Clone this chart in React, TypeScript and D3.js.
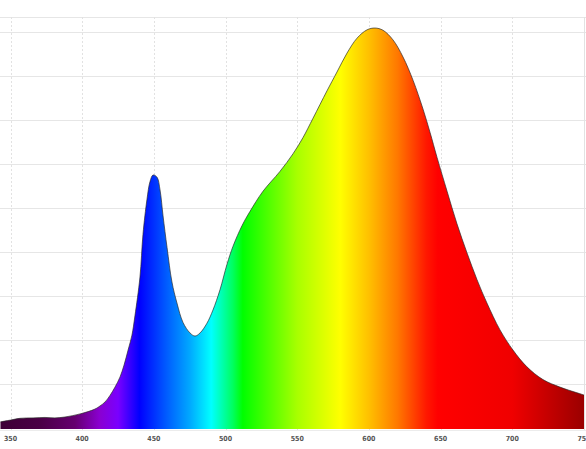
import React from "react";
import * as d3 from "d3";

// Spectrum: wavelength (nm) and relative intensity (gridline units)
const wavelengths = [343, 350, 356.6, 365.7, 374.1, 381, 388, 398.5, 408.9, 412.4, 415.9, 419.4, 422.9, 426.4, 429.2, 432, 434.7, 436.8, 440.3, 442.4, 445.2, 447.3, 449.4, 452.2, 454.3, 456.4, 459.2, 462.6, 466.1, 470.3, 475.2, 478.7, 482.2, 487, 491.2, 496.1, 501, 505.2, 511.5, 517, 526.1, 537.9, 547, 554, 561, 570.7, 577.7, 584.7, 591.7, 598.7, 604.2, 609.8, 616.8, 623.8, 630.8, 637.7, 642.6, 647.5, 654.5, 661.4, 668.4, 675.4, 682.3, 691.4, 700.5, 710.2, 721.4, 733.2, 745.1, 750];
const intensity = [0.14, 0.18, 0.22, 0.23, 0.24, 0.23, 0.25, 0.32, 0.43, 0.5, 0.59, 0.74, 0.93, 1.16, 1.43, 1.77, 2.11, 2.55, 3.43, 4.4, 5.2, 5.6, 5.75, 5.7, 5.41, 4.82, 4.1, 3.32, 2.84, 2.4, 2.16, 2.09, 2.16, 2.38, 2.68, 3.14, 3.72, 4.13, 4.6, 4.92, 5.38, 5.83, 6.23, 6.6, 7.04, 7.66, 8.09, 8.52, 8.86, 9.05, 9.09, 9.04, 8.82, 8.43, 7.9, 7.25, 6.72, 6.15, 5.38, 4.64, 3.98, 3.37, 2.84, 2.23, 1.77, 1.39, 1.1, 0.93, 0.8, 0.75];
const tickLabels = [350, 400, 450, 500, 550, 600, 650, 700, 750];
const gridValues = [1, 2, 3, 4, 5, 6, 7, 8, 9];

const colorStopNm = [343, 370, 395, 412, 425, 440, 458, 475, 490, 505, 512, 530, 550, 580, 600, 620, 640, 648, 700, 750];
const colorStopHex = ["#3d0036", "#4a0045", "#65006f", "#8a00d0", "#7a00ff", "#0000ff", "#0058ff", "#00a8ff", "#00ffff", "#00ff60", "#00ff00", "#50ff00", "#a8ff00", "#ffff00", "#ffc000", "#ff7800", "#ff1800", "#ff0000", "#f00000", "#9a0000"];

export default function App() {
  const width = 586;
  const height = 449;
  const x = d3.scaleLinear().domain([350, 750]).range([10.5, 584]);
  const y = d3.scaleLinear().domain([0, 9]).range([428, 32]);
  const data = wavelengths.map((w, i) => ({ w, v: intensity[i] }));
  const curve = d3.curveCatmullRom.alpha(0.5);
  const area = d3
    .area<{ w: number; v: number }>()
    .x((d) => x(d.w))
    .y0(y(0) + 1)
    .y1((d) => y(d.v))
    .curve(curve);
  const line = d3
    .line<{ w: number; v: number }>()
    .x((d) => x(d.w))
    .y((d) => y(d.v))
    .curve(curve);
  const x0 = x(343);
  const x1 = x(750);
  const topY = 17;
  return (
    <svg
      width={width}
      height={height}
      style={{ position: "absolute", left: 0, top: 0, background: "#fff" }}
    >
      <defs>
        <linearGradient id="spec" gradientUnits="userSpaceOnUse" x1={x0} x2={x1} y1={0} y2={0}>
          {colorStopNm.map((nm, i) => (
            <stop key={i} offset={(x(nm) - x0) / (x1 - x0)} stopColor={colorStopHex[i]} />
          ))}
        </linearGradient>
      </defs>
      <line x1={0} x2={width} y1={topY + 0.5} y2={topY + 0.5} stroke="#e6e6e6" strokeWidth={1} />
      {gridValues.map((g) => (
        <line key={g} x1={0} x2={width} y1={Math.round(y(g)) + 0.5} y2={Math.round(y(g)) + 0.5} stroke="#e6e6e6" strokeWidth={1} />
      ))}
      {tickLabels.map((t) => (
        <line
          key={t}
          x1={Math.round(x(t)) + 0.5}
          x2={Math.round(x(t)) + 0.5}
          y1={topY}
          y2={y(0) + 2}
          stroke="#e2e2e2"
          strokeWidth={1}
          strokeDasharray={t === 750 ? undefined : "2,2"}
        />
      ))}
      <line x1={0} x2={width} y1={y(0) + 2.5} y2={y(0) + 2.5} stroke="#ececec" strokeWidth={1} />
      <path d={area(data) || ""} fill="url(#spec)" />
      <path d={line(data) || ""} fill="none" stroke="#2a2a2a" strokeWidth={0.8} strokeOpacity={0.85} />
      {tickLabels.map((t) => (
        <text
          key={t}
          x={x(t)}
          y={441}
          textAnchor="middle"
          fontSize={7}
          fontWeight="bold"
          fontFamily="'Liberation Sans Narrow', 'DejaVu Sans Condensed', 'Liberation Sans', sans-serif"
          fill="#555"
        >
          {t}
        </text>
      ))}
    </svg>
  );
}
